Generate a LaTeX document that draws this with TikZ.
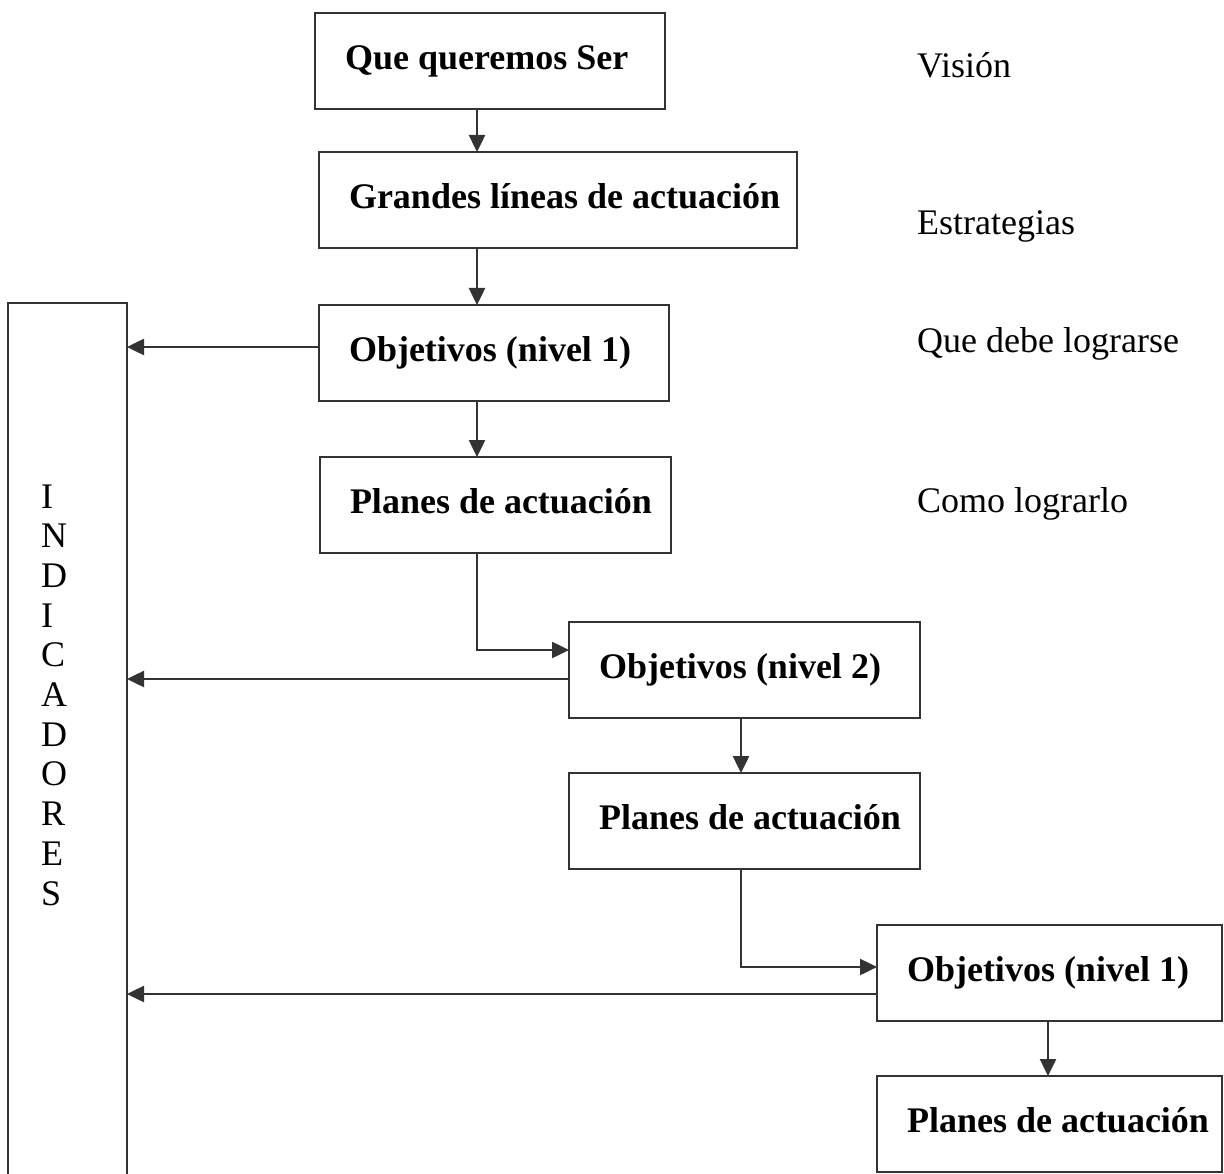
\documentclass[tikz,border=0pt]{standalone}
\usepackage{fontspec}
\setmainfont{Liberation Serif}
\usetikzlibrary{arrows.meta}
\definecolor{linegray}{HTML}{333333}
% a box whose text starts 30pt in from its left side
\newcommand\flowbox[5]{%
  \node[box, minimum width=#4pt] (#1) at (#2)
    {\makebox[\dimexpr#4pt-60pt\relax][l]{#5}};}
\begin{document}
\begin{tikzpicture}[x=1pt, y=-1pt,
  stroke/.style={draw=linegray, line width=2.5pt},
  box/.style={stroke, rectangle, anchor=north west, outer sep=0pt,
    inner xsep=30pt, inner ysep=0pt, minimum height=96pt,
    text height=25pt, text depth=8pt,
    font=\bfseries\fontsize{36}{40}\selectfont},
  side/.style={anchor=base west, inner sep=0pt, font=\fontsize{36}{40}\selectfont},
  letter/.style={anchor=base west, inner sep=0pt, font=\fontsize{36}{40}\selectfont},
  arr/.style={stroke, -{Triangle[length=17pt, width=16pt]}}]
\useasboundingbox (0,0) rectangle (1224,1174);

% main chain of boxes
\flowbox{b1}{315,13}{97}{350}{Que queremos Ser}
\flowbox{b2}{319,152}{96}{478}{Grandes líneas de actuación}
\flowbox{b3}{319,305}{96}{350}{Objetivos (nivel 1)}
\flowbox{b4}{320,457}{96}{351}{Planes de actuación}
\flowbox{b5}{569,622}{96}{351}{Objetivos (nivel 2)}
\flowbox{b6}{569,773}{96}{351}{Planes de actuación}
\flowbox{b7}{877,925}{96}{345}{Objetivos (nivel 1)}
\flowbox{b8}{877,1076}{96}{345}{Planes de actuación}

% tall column of indicators, open at the bottom of the page
\node[stroke, rectangle, anchor=north west, outer sep=0pt, inner sep=0pt,
  minimum width=119pt, minimum height=930pt] (ind) at (8,303) {};
\foreach \l [count=\i from 0] in {I,N,D,I,C,A,D,O,R,E,S}
  \node[letter] (ind\i) at (41, 508+39.7*\i) {\l};

% labels on the right
\node[side] (vision) at (917,78) {Visión};
\node[side] (estr) at (917,235) {Estrategias};
\node[side] (logr) at (917,353) {Que debe lograrse};
\node[side] (como) at (917,512) {Como lograrlo};

% guide coordinates for the connectors
\coordinate (xa) at (477,0);
\coordinate (xb) at (741,0);
\coordinate (xc) at (1048,0);
\coordinate (ya) at (0,650);
\coordinate (yb) at (0,967);
\coordinate (yl1) at (0,347);
\coordinate (yl2) at (0,679);
\coordinate (yl3) at (0,994);

% downward flow
\draw[arr] (b1.south -| xa) -- (b2.north -| xa);
\draw[arr] (b2.south -| xa) -- (b3.north -| xa);
\draw[arr] (b3.south -| xa) -- (b4.north -| xa);
\draw[arr] (b4.south -| xa) |- (b5.west |- ya);
\draw[arr] (b5.south -| xb) -- (b6.north -| xb);
\draw[arr] (b6.south -| xb) |- (b7.west |- yb);
\draw[arr] (b7.south -| xc) -- (b8.north -| xc);

% objectives feeding the indicators
\draw[arr] (b3.west |- yl1) -- (ind.east |- yl1);
\draw[arr] (b5.west |- yl2) -- (ind.east |- yl2);
\draw[arr] (b7.west |- yl3) -- (ind.east |- yl3);
\end{tikzpicture}
\end{document}
